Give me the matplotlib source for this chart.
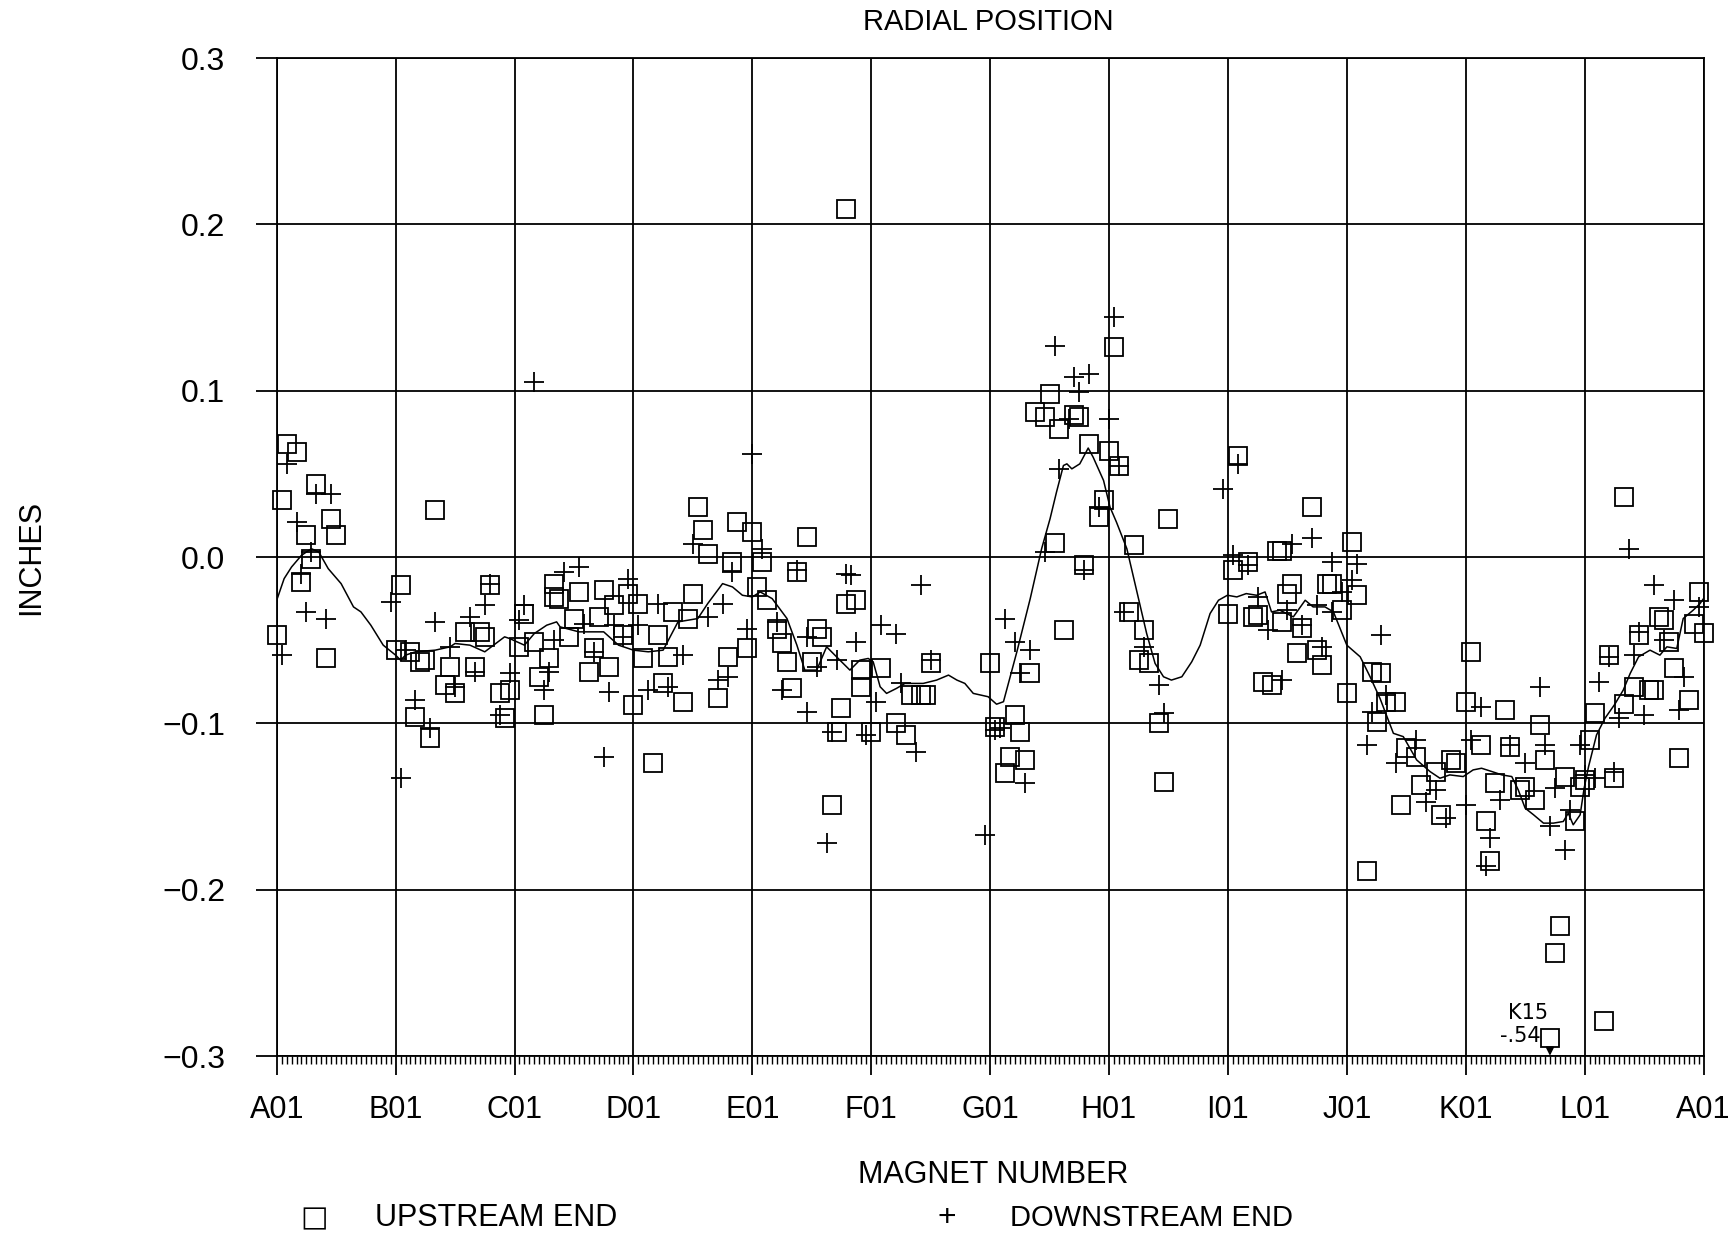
import matplotlib
matplotlib.use('Agg')
import matplotlib.pyplot as plt
from matplotlib.ticker import MultipleLocator

plt.rcParams['font.family'] = ['Liberation Sans', 'DejaVu Sans']

# magnet index: 24 magnets per sector, sector A starts at 0
sector_labels = ['A01', 'B01', 'C01', 'D01', 'E01', 'F01', 'G01',
                 'H01', 'I01', 'J01', 'K01', 'L01', 'A01']
y_ticks = [0.3, 0.2, 0.1, 0.0, -0.1, -0.2, -0.3]
y_tick_labels = ['0.3', '0.2', '0.1', '0.0', '\u22120.1', '\u22120.2', '\u22120.3']

# upstream end (squares)
up_mag = [2, 4, 1, 8, 11, 12, 6, 7, 5, 0, 10,
          32, 25, 24, 27, 29, 30, 28, 31, 35, 34, 36, 40, 38, 41, 42, 43, 45, 47, 46,
          49, 50, 52, 55, 53, 54, 56, 56,
          57, 61, 66, 71, 73, 68, 65, 60, 59, 70, 64, 63, 67, 72, 76, 74, 77, 78, 79, 80,
          82, 83, 84, 85, 86, 87, 89, 91, 92, 93, 96, 95, 97, 98, 99, 101, 102, 103, 104,
          107, 105, 108, 109, 110, 114, 113, 112, 115, 115,
          117, 118, 118, 122, 125, 127, 120, 132, 128, 130, 131, 144, 145, 149, 150, 148,
          151, 147, 152, 157, 163, 159, 156, 153, 155, 158, 161, 162, 164, 168, 170, 169,
          167, 166, 173, 172, 174,
          175, 176, 178, 179, 180, 192, 193, 196, 194, 197, 198, 199, 201, 202, 203, 204,
          205, 203, 207, 206, 209, 210, 211, 212, 213, 215, 216, 217, 218, 220, 221, 223,
          224, 226, 222, 227, 228, 230, 231,
          234, 235, 237, 238, 241, 240, 243, 244, 245, 248, 246, 249, 251, 252, 254, 255,
          256, 260, 262, 263, 264, 265, 266, 270, 269, 272, 272, 274, 277, 278, 275, 279,
          280, 281, 282, 283, 285, 286, 287, 288,
          259, 258, 257, 268]
up_val = [0.068, 0.063, 0.034, 0.044, 0.023, 0.013, 0.013, -0.001, -0.015, -0.047, -0.061,
          0.028, -0.017, -0.056, -0.057, -0.063, -0.062, -0.096, -0.109, -0.066, -0.077,
          -0.082, -0.066, -0.045, -0.045, -0.048, -0.017, -0.082, -0.080, -0.097,
          -0.054, -0.034, -0.051, -0.061, -0.072, -0.095, -0.024, -0.016,
          -0.025, -0.021, -0.020, -0.022, -0.028, -0.029, -0.036, -0.037, -0.048, -0.047,
          -0.055, -0.069, -0.066, -0.089, -0.124, -0.061, -0.047, -0.076, -0.060, -0.033,
          -0.087, -0.037, -0.022, 0.030, 0.016, 0.002, -0.085, -0.060, -0.003, 0.021,
          0.015, -0.055, -0.018, -0.003, -0.026, -0.043, -0.052, -0.063, -0.079,
          0.012, -0.009, -0.063, -0.043, -0.048, -0.091, -0.105, -0.149, -0.028, 0.209,
          -0.026, -0.068, -0.078, -0.067, -0.100, -0.107, -0.105, -0.064, -0.083, -0.083,
          -0.083, -0.064, -0.102, -0.095, -0.105, -0.120, -0.122, -0.130, -0.070, 0.0085,
          -0.005, -0.044, 0.098, 0.087, 0.084, 0.077, 0.0855, 0.084, 0.068, 0.064, 0.0545,
          0.126, 0.0345, 0.024, 0.007, -0.033, -0.062,
          -0.044, -0.064, -0.100, -0.135, 0.023, -0.034, -0.008, -0.003, 0.061, -0.036,
          -0.035, -0.075, -0.077, 0.0035, 0.0035, -0.022, -0.016, -0.039, -0.0425, -0.058,
          0.030, -0.056, -0.065, -0.016, -0.016, -0.032, -0.082, 0.009, -0.023, -0.189,
          -0.069, -0.070, -0.087, -0.087, -0.099, -0.149, -0.115, -0.120, -0.137,
          -0.129, -0.155, -0.122, -0.124, -0.057, -0.087, -0.113, -0.159, -0.183, -0.092,
          -0.136, -0.114, -0.140, -0.138, -0.146, -0.101, -0.122, -0.132, -0.159, -0.138,
          -0.134, -0.110, -0.094, -0.133, -0.059, -0.0885, 0.036, -0.078, -0.080, -0.080,
          -0.047, -0.036, -0.038, -0.051, -0.067, -0.121, -0.086, -0.040, -0.021, -0.0455,
          -0.222, -0.238, -0.289, -0.279]

# downstream end (plus)
dn_mag = [2, 8, 11, 4, 5, 6, 10, 1, 7,
          23, 26, 28, 31, 25, 32, 39, 42, 43, 35, 36, 40, 47, 45, 52, 50, 49, 54, 55, 56,
          58, 61, 71, 77, 73, 68, 62, 70, 64, 67, 66, 75, 79, 82, 84, 87, 90, 89, 91, 92,
          95, 96, 98, 101, 102, 105, 107, 109, 107, 112, 111, 113, 115,
          116, 117, 130, 122, 125, 132, 126, 121, 119, 129, 147, 149, 152, 150, 146, 145,
          151, 143, 155, 163, 158, 157, 161, 164, 162, 160, 168, 169, 166, 170, 171,
          175, 178, 179, 191, 194, 193, 196, 198, 200, 203, 205, 209, 204, 207, 210, 211,
          213, 213, 215, 217, 218, 223, 220, 221, 224, 226, 230, 232,
          234, 236, 241, 243, 240, 245, 244, 249, 247, 252, 255, 256, 258, 257, 260, 261,
          263, 264, 266, 267, 269, 271, 270, 273, 274, 276, 275, 278, 282, 280, 284, 283, 287]
dn_val = [0.056, 0.038, 0.038, 0.021, -0.010, -0.033, -0.037, -0.059, 0.003,
          -0.027, -0.056, -0.086, -0.103, -0.133, -0.039, -0.036, -0.029, -0.016, -0.054,
          -0.078, -0.069, -0.070, -0.095, 0.105, -0.029, -0.038, -0.080, -0.069, -0.050,
          -0.009, -0.006, -0.013, -0.028, -0.041, -0.041, -0.040, -0.048, -0.057, -0.081,
          -0.120, -0.080, -0.078, -0.059, 0.008, -0.036, -0.028, -0.074, -0.072, -0.009,
          -0.043, 0.062, 0.005, -0.039, -0.080, -0.008, -0.093, -0.066, -0.048, -0.105,
          -0.172, -0.062, -0.010,
          -0.011, -0.051, -0.017, -0.041, -0.046, -0.062, -0.076, -0.087, -0.107, -0.117,
          -0.037, -0.051, -0.056, -0.070, -0.103, -0.104, -0.136, -0.167, 0.003, -0.008,
          0.053, 0.127, 0.108, 0.110, 0.099, 0.083, 0.083, 0.144, 0.030, 0.0545, -0.033,
          -0.054, -0.077, -0.094, 0.041, 0.056, 0.001, -0.005, -0.024, -0.044, -0.074,
          0.008, 0.0115, -0.032, -0.041, -0.029, -0.054, -0.033, -0.003, -0.021, -0.014,
          -0.004, -0.047, -0.113, -0.093, -0.083, -0.124, -0.110, -0.147,
          -0.140, -0.157, -0.110, -0.090, -0.149, -0.169, -0.186, -0.113, -0.146, -0.124,
          -0.078, -0.113, -0.139, -0.162, -0.176, -0.152, -0.113, -0.131, -0.133, -0.075,
          -0.060, -0.097, -0.129, 0.005, -0.059, -0.095, -0.045, -0.017, -0.026, -0.050,
          -0.072, -0.092, -0.030]

# running average line
avg_mag = [0, 1.5, 3, 5, 7, 8.5, 10.4, 13, 15.5, 17, 19, 21.5, 24, 25, 26, 28, 32, 35, 36,
           39, 42, 46, 47, 50, 52, 54.5, 56.5,
           57.2, 61, 66, 69, 72, 75, 78, 81, 85, 87, 90, 92, 94, 96, 97.6, 100, 103, 105,
           106.6, 109, 111, 113, 115.7,
           117.7, 119.4, 120.4, 121.8, 123.1, 125.1, 126.8, 130.5, 133.2, 135.6, 137.3,
           138.9, 140.6, 143.6, 145.3, 146.7, 149.4, 152.1, 154.4, 156.1, 157.4, 158.8,
           159.5, 160.5, 162.1, 163.8, 164.8, 166.9, 168.2, 169.5, 171.6, 174.2,
           175.6, 177.3, 179, 180.6, 182.7, 184.7, 186.4, 188.4, 190.1, 191.9, 193.8, 195.7,
           197.8, 199.5, 200.8, 202.5, 205.2, 207.6, 209.2, 211.6, 213.3, 216, 218.7, 220.7,
           222.7, 225.4, 227.4, 230.1, 232.8,
           234.8, 236.8, 239.5, 241.5, 243.2, 245.3, 247.3, 249.3, 250.6, 252, 253.7, 255.7,
           257.7, 259.7, 260.7, 261.7, 263.1, 263.9, 264.8, 266.4, 268.1, 270.1, 271.8,
           273.2, 274.9, 277.2, 279.2, 280.6, 282.6, 283.9, 285.9, 287.3, 288]
avg_val = [-0.026, -0.013, -0.006, 0.001, 0.005, 0.003, -0.007, -0.016, -0.030, -0.033,
           -0.041, -0.053, -0.059, -0.062, -0.059, -0.057, -0.056, -0.054, -0.052, -0.053,
           -0.057, -0.048, -0.049, -0.053, -0.046, -0.041, -0.039,
           -0.042, -0.045, -0.045, -0.053, -0.056, -0.057, -0.056, -0.039, -0.037, -0.028,
           -0.016, -0.018, -0.023, -0.024, -0.021, -0.025, -0.037, -0.053, -0.068, -0.068,
           -0.054, -0.060, -0.068,
           -0.062, -0.061, -0.063, -0.078, -0.082, -0.079, -0.076, -0.076, -0.074, -0.071,
           -0.074, -0.076, -0.082, -0.084, -0.0885, -0.087, -0.057, -0.025, 0.005, 0.023,
           0.039, 0.055, 0.056, 0.053, 0.056, 0.0655, 0.060, 0.046, 0.030, 0.021, 0.005,
           -0.028,
           -0.046, -0.064, -0.072, -0.074, -0.072, -0.063, -0.053, -0.034, -0.026, -0.023,
           -0.024, -0.022, -0.023, -0.021, -0.033, -0.032, -0.036, -0.026, -0.030, -0.030,
           -0.033, -0.053, -0.060, -0.072, -0.085, -0.106, -0.108, -0.122, -0.129,
           -0.133, -0.131, -0.132, -0.128, -0.127, -0.129, -0.131, -0.132, -0.140, -0.151,
           -0.155, -0.160, -0.160, -0.159, -0.154, -0.161, -0.155, -0.139, -0.126, -0.107,
           -0.097, -0.0885, -0.080, -0.070, -0.060, -0.056, -0.059, -0.054, -0.055, -0.037,
           -0.032, -0.028, -0.025]

fig = plt.figure(figsize=(17.31, 12.36), dpi=100)
ax = fig.add_axes([0.15985, 0.14563, 0.82427, 0.80744])

ax.plot(avg_mag, avg_val, color='black', lw=1.1, zorder=3)
ax.plot(up_mag, up_val, linestyle='none', marker='s', ms=13, mfc='none', mec='black',
        mew=1.3, clip_on=False, zorder=4)
ax.plot(dn_mag, dn_val, linestyle='none', marker='+', ms=14, mec='black', mew=1.3,
        clip_on=False, zorder=4)

ax.set_xlim(0, 288)
ax.set_ylim(-0.3, 0.3)
ax.set_xticks(range(0, 289, 24))
ax.set_xticklabels(sector_labels, fontsize=22)
ax.xaxis.set_minor_locator(MultipleLocator(1))
ax.set_yticks(y_ticks)
ax.set_yticklabels(y_tick_labels, fontsize=23)
ax.grid(True, which='major', color='black', lw=1.3)
ax.tick_params(axis='x', which='major', direction='out', length=14, width=1.3, pad=14)
ax.tick_params(axis='x', which='minor', direction='out', length=6, width=1.0)
ax.tick_params(axis='y', which='major', direction='out', length=15, width=1.3, pad=22)
for s in ax.spines.values():
    s.set_linewidth(1.3)

# handwritten note on the clipped K15 point
ax.text(252.5, -0.274, 'K15', fontsize=15, ha='center', va='center', family='DejaVu Sans')
ax.text(251, -0.288, '-.54', fontsize=15, ha='center', va='center', family='DejaVu Sans')
ax.annotate('', xy=(257, -0.3015), xytext=(257, -0.2945),
            arrowprops=dict(arrowstyle='-|>', lw=1.2, color='black', mutation_scale=12),
            annotation_clip=False)

fig.text(0.571, 0.982, 'RADIAL POSITION', fontsize=21, ha='center', va='center')
fig.text(0.018, 0.549, 'INCHES', fontsize=22, rotation=90, ha='center', va='center')
fig.text(0.574, 0.0494, 'MAGNET NUMBER', fontsize=22, ha='center', va='center')

# legend row at the bottom
fig.text(0.1817, 0.0142, '\u25a1', fontsize=21, ha='center', va='center', family='DejaVu Sans')
fig.text(0.2166, 0.0142, 'UPSTREAM END', fontsize=22, ha='left', va='center')
fig.text(0.5471, 0.0142, '+', fontsize=23, ha='center', va='center')
fig.text(0.5835, 0.0142, 'DOWNSTREAM END', fontsize=21, ha='left', va='center')

fig.savefig('out.png', dpi=100)
